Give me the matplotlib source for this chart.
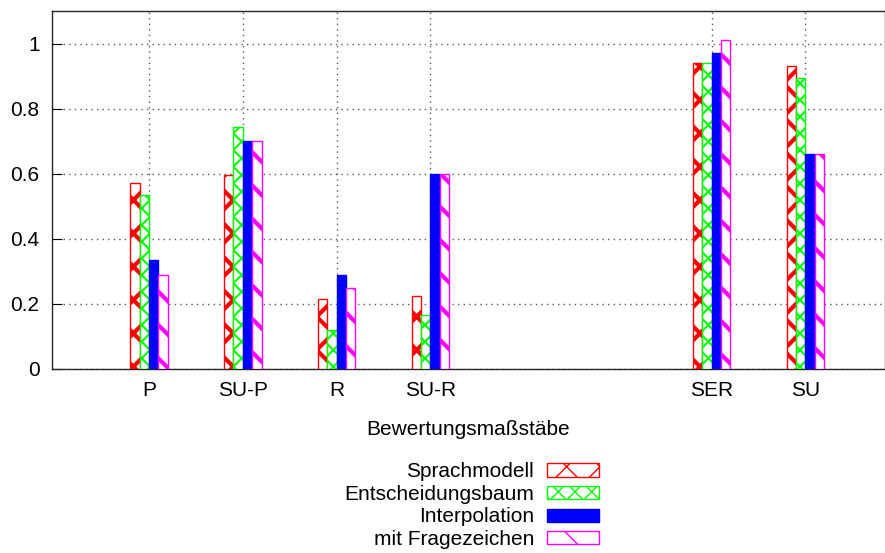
import matplotlib
matplotlib.use('Agg')
import matplotlib.pyplot as plt
import numpy as np

plt.rcParams['font.family'] = ['Liberation Sans', 'DejaVu Sans']
plt.rcParams['font.size'] = 15

categories = ['P', 'SU-P', 'R', 'SU-R', 'SER', 'SU']
# gap between the SU-R and SER groups
positions = [0, 1, 2, 3, 6, 7]

sprachmodell = [0.57, 0.595, 0.215, 0.225, 0.94, 0.93]
entscheidungsbaum = [0.535, 0.745, 0.12, 0.165, 0.94, 0.895]
interpolation = [0.335, 0.70, 0.29, 0.60, 0.97, 0.66]
fragezeichen = [0.29, 0.70, 0.25, 0.60, 1.01, 0.66]

series = [
    ('Sprachmodell', sprachmodell, 'white', '#ff0000', 'x', 3.0),
    ('Entscheidungsbaum', entscheidungsbaum, 'white', '#00ff00', 'xx', 1.5),
    ('Interpolation', interpolation, '#0000ff', '#0000ff', None, 1.0),
    ('mit Fragezeichen', fragezeichen, 'white', '#ff00ff', '\\', 3.0),
]

fig = plt.figure(figsize=(8.85, 5.53), dpi=100)
ax = fig.add_axes([52 / 885, 1 - 369 / 553, 1 - 52 / 885, (369 - 11) / 553])

x = np.array(positions, dtype=float)
width = 0.1
for i, (label, vals, face, edge, hatch, hlw) in enumerate(series):
    with plt.rc_context({'hatch.linewidth': hlw}):
        ax.bar(x + (i - 1.5) * width, vals, width, label=label,
               facecolor=face, edgecolor=edge, hatch=hatch, linewidth=1.0,
               zorder=3)

ax.set_xlim(-1.035, 7.85)
ax.set_ylim(0, 1.1)
ax.set_xticks(positions)
ax.set_xticklabels(categories)
ax.set_yticks([0, 0.2, 0.4, 0.6, 0.8, 1.0])
ax.set_yticklabels(['0', '0.2', '0.4', '0.6', '0.8', '1'])
ax.tick_params(axis='x', length=0, pad=9)
ax.tick_params(axis='y', direction='in', length=7, pad=9)
ax.grid(True, linestyle=(0, (1, 3)), color='0.35', linewidth=1.0, zorder=0)
ax.set_axisbelow(True)
for s in ax.spines.values():
    s.set_linewidth(1.0)
    s.set_color('0.15')

ax.set_xlabel('Bewertungsmaßstäbe', labelpad=14)

fig.legend(loc='upper right', bbox_to_anchor=(609 / 885, 1 - 452 / 553),
           frameon=False, markerfirst=False, borderpad=0,
           handlelength=2.5, handleheight=0.6, handletextpad=0.6,
           labelspacing=0.17, fontsize=15)

plt.savefig('out.png', dpi=100)
